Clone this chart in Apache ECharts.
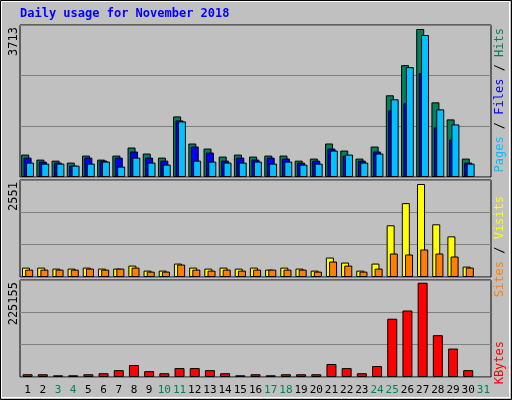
<!DOCTYPE html>
<html>
<head>
<meta charset="utf-8">
<script src="https://cdn.jsdelivr.net/npm/echarts@6/dist/echarts.min.js"></script>
<style>body{margin:0;background:#fff}#main{width:512px;height:400px}</style>
</head>
<body>
<div id="main"></div>
<script>
var days = [];
for (var d = 1; d <= 31; d++) days.push(String(d));
var weekend = ['3', '4', '10', '11', '17', '18', '24', '25', '31'];

var hits = [548, 425, 400, 352, 523, 425, 523, 720, 573, 474, 1480, 818, 695, 499, 548, 499, 523, 523, 400, 450, 818, 646, 450, 744, 1996, 2732, 3615, 1824, 1407, 450, null];
var files = [474, 376, 352, 278, 474, 400, 474, 622, 474, 400, 1382, 744, 597, 400, 474, 425, 474, 450, 352, 400, 695, 523, 400, 622, 1628, 1800, 2536, 1211, 916, 352, null];
var pages = [352, 327, 327, 278, 327, 376, 254, 474, 352, 303, 1358, 400, 376, 352, 352, 376, 327, 376, 303, 327, 646, 548, 352, 573, 1898, 2683, 3468, 1652, 1284, 327, null];
var visits = [247, 247, 221, 221, 247, 221, 221, 300, 168, 168, 353, 247, 221, 247, 221, 247, 194, 247, 221, 168, 512, 380, 168, 353, 1360, 1943, 2446, 1386, 1068, 274, null];
var sites = [194, 194, 194, 194, 221, 194, 221, 247, 141, 141, 327, 194, 168, 194, 168, 194, 194, 194, 194, 141, 406, 300, 141, 221, 618, 592, 724, 618, 539, 247, null];
var kbytes = [6365, 6365, 3978, 3978, 6365, 8752, 15912, 27846, 13525, 8752, 20686, 20686, 15912, 8752, 3978, 6365, 3978, 6365, 6365, 6365, 30233, 20686, 8752, 25459, 135252, 154346, 218790, 97063, 66035, 15912, null];
var maxHits = 3713, maxVisits = 2551, maxKbytes = 225155;

var font = '"DejaVu Sans Mono", monospace';
var grids = [
	{left: 20, right: 21, top: 25, height: 152},
	{left: 20, right: 21, top: 180, height: 97},
	{left: 20, right: 21, top: 280, height: 97}
];
grids.forEach(function(g) {
	g.show = true;
	g.backgroundColor = '#c0c0c0';
	g.borderColor = '#000';
	g.borderWidth = 1;
});

function xAxis(i) {
	return {
		type: 'category', gridIndex: i, data: days,
		axisLine: {show: false}, axisTick: {show: false},
		axisLabel: {
			show: i === 2, interval: 0, fontFamily: font, fontSize: 11, margin: 8,
			color: function(v) { return weekend.indexOf(v) >= 0 ? '#00805c' : '#000'; }
		}
	};
}
function yAxis(i, max) {
	return {
		type: 'value', gridIndex: i, min: 0, max: max, interval: max / 3,
		axisLabel: {show: false}, axisLine: {show: false}, axisTick: {show: false},
		splitLine: {lineStyle: {color: '#808080', width: 1}}
	};
}
function bar(name, data, color, i, w, gap) {
	return {
		name: name, type: 'bar', data: data, xAxisIndex: i, yAxisIndex: i,
		barWidth: w, barGap: gap, animation: false,
		itemStyle: {color: color, borderColor: '#000', borderWidth: 1}
	};
}
// rotated label reading bottom-to-top, its end placed at (x, y)
function vlabel(x, y, text, fill, rich) {
	return {
		type: 'text', x: x, y: y, rotation: Math.PI / 2,
		style: {text: text, rich: rich, fill: fill, font: '12px ' + font, align: 'right', verticalAlign: 'top'}
	};
}

var chart = echarts.init(document.getElementById('main'));
chart.setOption({
	backgroundColor: '#c0c0c0',
	grid: grids,
	xAxis: [xAxis(0), xAxis(1), xAxis(2)],
	yAxis: [yAxis(0, maxHits), yAxis(1, maxVisits), yAxis(2, maxKbytes)],
	series: [
		bar('Hits', hits, '#00805c', 0, 8, '-70%'),
		bar('Files', files, '#0000ff', 0, 8, '-70%'),
		bar('Pages', pages, '#00c0ff', 0, 8, '-70%'),
		bar('Visits', visits, '#ffff00', 1, 8, '-60%'),
		bar('Sites', sites, '#ff8000', 1, 8, '-60%'),
		bar('KBytes', kbytes, '#ff0000', 2, 10, '0%')
	],
	graphic: [
		{type: 'rect', shape: {x: 0.5, y: 0.5, width: 511, height: 399}, style: {fill: null, stroke: '#000', lineWidth: 1}, z: 100},
		{type: 'rect', shape: {x: 1.5, y: 1.5, width: 508, height: 396}, style: {fill: null, stroke: '#fff', lineWidth: 1}, z: 100},
		{type: 'text', x: 20, y: 8, style: {text: 'Daily usage for November 2018', font: 'bold 12px ' + font, fill: '#0000ff'}},
		vlabel(8, 27, '3713', '#000'),
		vlabel(8, 182, '2551', '#000'),
		vlabel(8, 282, '225155', '#000'),
		vlabel(494, 28, '{p|Pages}{s| / }{f|Files}{s| / }{h|Hits}', '#000',
			{h: {fill: '#00805c'}, f: {fill: '#0000ff'}, p: {fill: '#00c0ff'}, s: {fill: '#000'}}),
		vlabel(494, 196, '{t|Sites}{s| / }{v|Visits}', '#000',
			{v: {fill: '#ffff00'}, t: {fill: '#ff8000'}, s: {fill: '#000'}}),
		vlabel(494, 341, 'KBytes', '#ff0000')
	]
});
</script>
</body>
</html>
